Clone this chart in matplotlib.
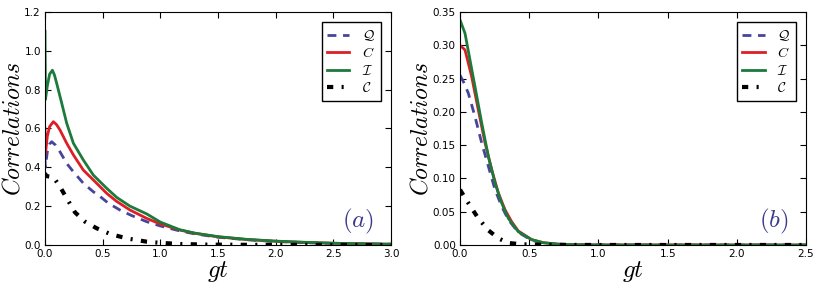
import matplotlib
matplotlib.use("Agg")
import matplotlib.pyplot as plt
from matplotlib.ticker import FormatStrFormatter

plt.rcParams['mathtext.fontset'] = 'cm'

# ---------------- panel (a) data ----------------
xa_Q = [0.0, 0.003, 0.02, 0.04, 0.058, 0.09, 0.13, 0.188, 0.246, 0.332, 0.419, 0.477, 0.55, 0.65, 0.75, 0.882, 1.0, 1.171, 1.3, 1.5, 1.75, 2.0, 2.25, 2.5, 2.75, 3.0]
ya_Q = [0.44, 0.40, 0.48, 0.52, 0.532, 0.515, 0.48, 0.42, 0.377, 0.318, 0.274, 0.25, 0.215, 0.18, 0.152, 0.12, 0.098, 0.072, 0.057, 0.04, 0.027, 0.018, 0.012, 0.008, 0.006, 0.004]

xa_C = [0.0, 0.004, 0.02, 0.04, 0.072, 0.10, 0.13, 0.188, 0.246, 0.332, 0.419, 0.535, 0.62, 0.737, 0.882, 1.0, 1.171, 1.3, 1.5, 1.75, 2.0, 2.25, 2.5, 2.75, 3.0]
ya_C = [0.60, 0.47, 0.56, 0.61, 0.635, 0.62, 0.592, 0.524, 0.464, 0.386, 0.335, 0.266, 0.225, 0.18, 0.137, 0.108, 0.077, 0.06, 0.042, 0.028, 0.019, 0.013, 0.009, 0.006, 0.004]

xa_I = [0.0, 0.004, 0.02, 0.04, 0.064, 0.082, 0.101, 0.145, 0.188, 0.246, 0.332, 0.419, 0.535, 0.622, 0.737, 0.882, 1.0, 1.171, 1.3, 1.5, 1.75, 2.0, 2.25, 2.5, 2.75, 3.0]
ya_I = [1.10, 0.75, 0.82, 0.88, 0.90, 0.875, 0.833, 0.73, 0.627, 0.524, 0.438, 0.36, 0.292, 0.245, 0.20, 0.16, 0.118, 0.078, 0.061, 0.043, 0.029, 0.02, 0.014, 0.009, 0.006, 0.004]

xa_K = [0.0, 0.01, 0.072, 0.13, 0.174, 0.26, 0.347, 0.448, 0.564, 0.708, 0.882, 1.0, 1.171, 1.4, 1.7, 2.0, 2.5, 3.0]
ya_K = [0.37, 0.355, 0.35, 0.30, 0.255, 0.168, 0.12, 0.086, 0.057, 0.034, 0.017, 0.011, 0.005, 0.002, 0.001, 0.0005, 0.0002, 0.0001]

# ---------------- panel (b) data ----------------
xb_Q = [0.0, 0.03, 0.06, 0.108, 0.157, 0.205, 0.253, 0.301, 0.349, 0.421, 0.518, 0.6, 0.7, 0.85, 1.0, 1.5, 2.0, 2.5]
yb_Q = [0.255, 0.243, 0.228, 0.193, 0.153, 0.118, 0.083, 0.058, 0.038, 0.019, 0.007, 0.003, 0.0012, 0.0004, 0.0001, 0.0, 0.0, 0.0]

xb_C = [0.0, 0.036, 0.084, 0.132, 0.181, 0.229, 0.277, 0.325, 0.373, 0.421, 0.518, 0.6, 0.7, 0.85, 1.0, 1.5, 2.0, 2.5]
yb_C = [0.30, 0.293, 0.253, 0.203, 0.153, 0.113, 0.078, 0.053, 0.035, 0.021, 0.008, 0.0035, 0.0013, 0.0004, 0.0001, 0.0, 0.0, 0.0]

xb_I = [0.0, 0.036, 0.072, 0.108, 0.157, 0.205, 0.253, 0.301, 0.349, 0.421, 0.518, 0.6, 0.7, 0.85, 1.0, 1.5, 2.0, 2.5]
yb_I = [0.338, 0.318, 0.278, 0.238, 0.183, 0.133, 0.093, 0.063, 0.04, 0.02, 0.008, 0.0035, 0.0013, 0.0004, 0.0001, 0.0, 0.0, 0.0]

xb_K = [0.0, 0.06, 0.132, 0.205, 0.277, 0.349, 0.45, 0.6, 0.8, 1.0, 1.5, 2.0, 2.5]
yb_K = [0.083, 0.063, 0.04, 0.022, 0.01, 0.003, 0.001, 0.0003, 0.0001, 0.0, 0.0, 0.0, 0.0]

labels = [r'$\mathcal{Q}$', r'$C$', r'$\mathcal{I}$', r'$\mathcal{C}$']
col_Q = '#45459c'
col_C = '#dc1f26'
col_I = '#1c7a3a'
col_K = '#000000'

fig = plt.figure(figsize=(8.2, 2.94), dpi=100)
axa = fig.add_axes([0.0549, 0.1667, 0.4219, 0.7925])
axb = fig.add_axes([0.561, 0.1667, 0.422, 0.7925])

def draw(ax, xq, yq, xc, yc, xi, yi, xk, yk, xmax, ymax, yticks, tag):
    ax.plot(xq, yq, color=col_Q, lw=2, ls=(0, (3.2, 2.4)), label=labels[0])
    ax.plot(xc, yc, color=col_C, lw=2, label=labels[1])
    ax.plot(xi, yi, color=col_I, lw=2, label=labels[2])
    ax.plot(xk, yk, color=col_K, lw=3, ls=(0, (1.5, 2, 0.5, 2)), label=labels[3])
    ax.set_xlim(0, xmax)
    ax.set_ylim(0, ymax)
    ax.set_yticks(yticks)
    ax.tick_params(direction='in', top=True, right=True, labelsize=7.5, length=4, pad=3)
    ax.set_xlabel(r'$gt$', fontsize=18, labelpad=0)
    ax.set_ylabel(r'$Correlations$', fontsize=17, labelpad=0)
    ax.text(0.95, 0.1, tag, transform=ax.transAxes, ha='right', va='center',
            fontsize=18, color='#3a3a8c')
    leg = ax.legend(loc='upper right', fontsize=10, handlelength=1.6, handletextpad=0.9,
                    labelspacing=0.25, fancybox=False, framealpha=1, borderpad=0.4,
                    bbox_to_anchor=(1.0, 1.0), borderaxespad=0.75)
    leg.get_frame().set_edgecolor('black')
    leg.get_frame().set_linewidth(1)

draw(axa, xa_Q, ya_Q, xa_C, ya_C, xa_I, ya_I, xa_K, ya_K, 3.0, 1.2,
     [0.0, 0.2, 0.4, 0.6, 0.8, 1.0, 1.2], r'$(a)$')
draw(axb, xb_Q, yb_Q, xb_C, yb_C, xb_I, yb_I, xb_K, yb_K, 2.5, 0.35,
     [0.0, 0.05, 0.10, 0.15, 0.20, 0.25, 0.30, 0.35], r'$(b)$')
axb.yaxis.set_major_formatter(FormatStrFormatter('%.2f'))
axa.xaxis.set_major_formatter(FormatStrFormatter('%.1f'))
axb.xaxis.set_major_formatter(FormatStrFormatter('%.1f'))
axa.yaxis.set_major_formatter(FormatStrFormatter('%.1f'))

fig.savefig('out.png', dpi=100)
